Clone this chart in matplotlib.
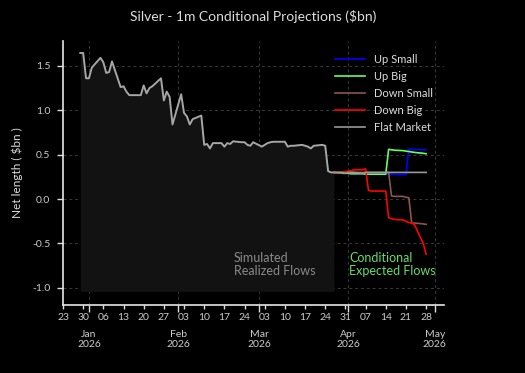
import matplotlib
matplotlib.use("Agg")
import matplotlib.pyplot as plt
import matplotlib.dates as mdates
import pandas as pd

plt.rcParams['font.family'] = ['Lato', 'DejaVu Sans']

# ---------------- data ----------------
hist_start, hist_end = "2025-12-29", "2026-03-27"
hist_values = [
    1.645, 1.645, 1.36, 1.36, 1.48,
    1.59, 1.54, 1.42, 1.43, 1.55,
    1.26, 1.27, 1.21, 1.17, 1.17,
    1.17, 1.28, 1.19, 1.25, 1.27,
    1.36, 1.11, 1.21, 1.15, 0.84,
    1.18, 0.97, 0.93, 0.84, 0.90,
    0.94, 0.61, 0.62, 0.57, 0.63,
    0.63, 0.59, 0.63, 0.62, 0.65,
    0.64, 0.64, 0.61, 0.60, 0.64,
    0.59, 0.61, 0.63, 0.64, 0.645,
    0.645, 0.645, 0.59, 0.60, 0.60,
    0.61, 0.60, 0.59, 0.57, 0.60,
    0.61, 0.60, 0.315, 0.30, 0.30,
]

proj_start, proj_end = "2026-03-27", "2026-04-28"
up_small = [0.30, 0.29, 0.29, 0.29, 0.285, 0.285, 0.285, 0.28, 0.28, 0.28, 0.28, 0.28,
            0.28, 0.28, 0.28, 0.275, 0.275, 0.275, 0.565, 0.56, 0.56, 0.555, 0.555]
up_big = [0.30, 0.29, 0.29, 0.29, 0.285, 0.285, 0.285, 0.28, 0.28, 0.28, 0.28, 0.28,
          0.28, 0.56, 0.555, 0.55, 0.545, 0.54, 0.535, 0.53, 0.525, 0.515, 0.51]
down_small = [0.30, 0.30, 0.30, 0.30, 0.30, 0.30, 0.30, 0.30, 0.30, 0.30, 0.30, 0.30,
              0.30, 0.30, 0.035, 0.03, 0.03, 0.02, 0.015, -0.27, -0.27, -0.28, -0.285]
down_big = [0.30, 0.30, 0.31, 0.315, 0.32, 0.33, 0.33, 0.34, 0.10, 0.09, 0.09, 0.09,
            0.09, -0.21, -0.22, -0.23, -0.235, -0.25, -0.265, -0.27, -0.29, -0.50, -0.62]
flat_market = [0.30, 0.30, 0.29, 0.30, 0.30, 0.30, 0.29, 0.30, 0.30, 0.30, 0.30, 0.30,
               0.30, 0.30, 0.30, 0.30, 0.30, 0.30, 0.30, 0.30, 0.30, 0.30, 0.30]

series_names = ["Up Small", "Up Big", "Down Small", "Down Big", "Flat Market"]
series_values = [up_small, up_big, down_small, down_big, flat_market]
series_colors = ["#0000ff", "#66ff66", "#8c564b", "#ff0000", "#999999"]

title = "Silver - 1m Conditional Projections ($bn)"
ylabel = "Net length ( $bn )"

# ---------------- figure ----------------
hist_dates = pd.bdate_range(hist_start, hist_end)
proj_dates = pd.bdate_range(proj_start, proj_end)

fig = plt.figure(figsize=(5.25, 3.73), dpi=100, facecolor="black")
ax = fig.add_axes([0.12, 0.183, 0.7257, 0.706], facecolor="black")

ax.fill_between(hist_dates, hist_values, -1.04, color="#121212", zorder=1, linewidth=0)
ax.plot(hist_dates, hist_values, color="#a6a6a6", linewidth=1.4, zorder=3)

for name, vals, col in zip(series_names, series_values, series_colors):
    ax.plot(proj_dates, vals, color=col, linewidth=1.2, label=name, zorder=4)

ax.set_xlim(pd.Timestamp("2025-12-23"), pd.Timestamp("2026-05-04 05:00"))
ax.set_ylim(-1.19, 1.775)

ax.xaxis.set_major_locator(mdates.MonthLocator())
ax.xaxis.set_major_formatter(mdates.DateFormatter("%b\n%Y"))
ax.xaxis.set_minor_locator(mdates.WeekdayLocator(byweekday=mdates.TU))
ax.xaxis.set_minor_formatter(mdates.DateFormatter("%d"))
ax.set_yticks([-1.0, -0.5, 0.0, 0.5, 1.0, 1.5])
ax.yaxis.set_major_formatter(matplotlib.ticker.FormatStrFormatter("%.1f"))

ax.tick_params(axis="x", which="major", length=5, width=1, pad=13, colors="#dddddd",
               labelsize=7.5, labelcolor="#cccccc")
ax.tick_params(axis="x", which="minor", length=3, width=1, pad=3, colors="#dddddd",
               labelsize=7.5, labelcolor="#cccccc")
ax.tick_params(axis="y", which="major", length=4, width=1, pad=5, colors="#dddddd",
               labelsize=7.5, labelcolor="#cccccc")

for s in ["top", "right"]:
    ax.spines[s].set_visible(False)
for s in ["left", "bottom"]:
    ax.spines[s].set_color("#e6e6e6")
    ax.spines[s].set_linewidth(1.2)

ax.grid(True, which="major", color="#3a3a3a", linestyle=(0, (3, 3)), linewidth=0.7, zorder=0)
ax.set_axisbelow(True)

ax.set_title(title, color="#dddddd", fontsize=10, pad=15)
ax.set_ylabel(ylabel, color="#dddddd", fontsize=8.5, labelpad=7)

ax.text(pd.Timestamp("2026-02-20 08:00"), -0.60, "Simulated\nRealized Flows", color="#8a8a8a",
        fontsize=9, va="top", ha="left", linespacing=1.05, zorder=5)
ax.text(pd.Timestamp("2026-04-01 05:00"), -0.60, "Conditional\nExpected Flows", color="#66dd66",
        fontsize=9, va="top", ha="left", linespacing=1.05, zorder=5)

leg = ax.legend(loc="upper left", bbox_to_anchor=(0.714, 0.954), frameon=False,
                fontsize=8, handlelength=2.7, handletextpad=0.8, labelspacing=0.55,
                borderaxespad=0, borderpad=0)
for t in leg.get_texts():
    t.set_color("#dddddd")

fig.savefig("out.png", dpi=100, facecolor="black")
